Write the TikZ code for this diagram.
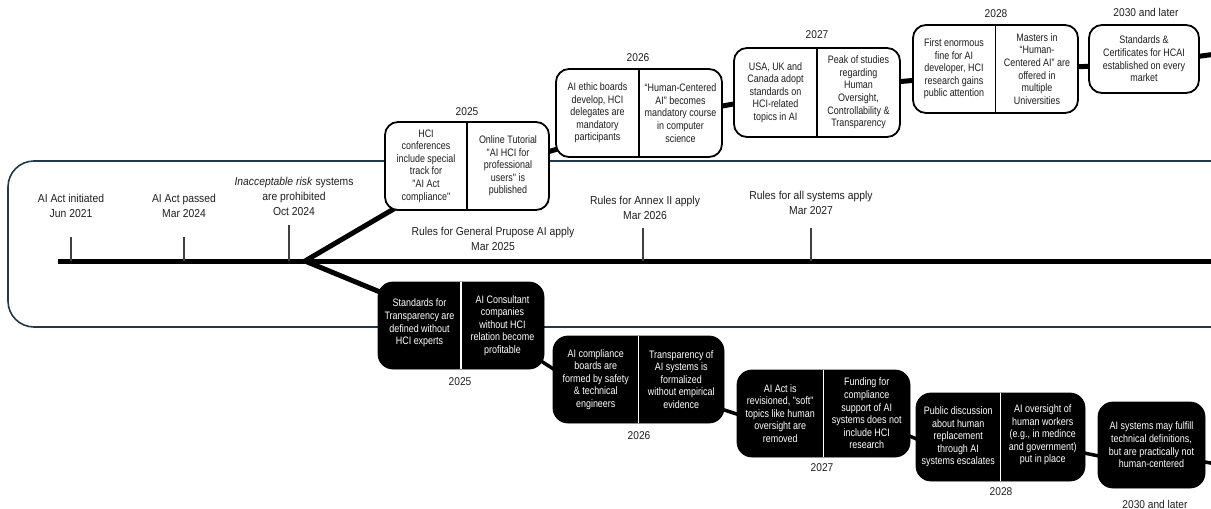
\documentclass[tikz,border=0pt]{standalone}
\usepackage{fontspec}
\setmainfont[FakeStretch=0.9]{Liberation Sans}
\newfontfamily\boxfont[FakeStretch=0.83]{Liberation Sans}
\usetikzlibrary{backgrounds,calc}
\definecolor{framecol}{HTML}{1F3A4D}
\definecolor{txt}{HTML}{1E1E1E}
\begin{document}
\begin{tikzpicture}[x=1pt,y=-1pt,
  ubox/.style={draw=black,line width=1.8pt,fill=white,rounded corners=13pt,inner sep=0pt},
  lbox/.style={draw=black,line width=0.8pt,fill=black,rounded corners=15pt,inner sep=0pt},
  btxt/.style={align=center,font=\boxfont\fontsize{10.8}{12.6}\selectfont,text=txt,inner sep=0pt},
  wtxt/.style={btxt,text=white},
  yr/.style={font=\fontsize{11.3}{13}\selectfont,text=txt,inner sep=0pt},
  lab/.style={align=center,font=\fontsize{11.5}{15}\selectfont,text=txt,inner sep=0pt},
  tickline/.style={line width=1.3pt,draw=black!75},
  udiv/.style={line width=1.3pt,draw=black},
  ldiv/.style={line width=1.6pt,draw=white},
  uchain/.style={line width=5pt,draw=black},
  lchain/.style={line width=3.5pt,draw=black},
  mainline/.style={line width=5pt,draw=black},
]
\useasboundingbox (0,0) rectangle (1211,509);

% ---------- coordinates ----------
\coordinate (tl0) at (58,261);
\coordinate (tlend) at (1220,261);
\coordinate (fork) at (305,261);
\coordinate (t1) at (71,237);
\coordinate (t2) at (184,237);
\coordinate (t3) at (289,225);
\coordinate (t4) at (643,228);
\coordinate (t5) at (811,228);
\coordinate (uend) at (1216,54);
\coordinate (lend) at (1216,464);
\coordinate (fr1) at (1240,161);
\coordinate (fr2) at (8,161);
\coordinate (fr3) at (8,327);
\coordinate (fr4) at (1240,327);

% ---------- timeline labels ----------
\node[lab] (l1) at (71,205.5) {AI Act initiated\\Jun 2021};
\node[lab] (l2) at (184,205.5) {AI Act passed\\Mar 2024};
\node[lab] (l3) at (294,196.5) {\textit{Inacceptable risk} systems\\are prohibited\\Oct 2024};
\node[lab] (l4) at (493,239) {Rules for General Prupose AI apply\\Mar 2025};
\node[lab] (l5) at (645,207.5) {Rules for Annex II apply\\Mar 2026};
\node[lab] (l6) at (811,202.5) {Rules for all systems apply\\Mar 2027};

% ---------- upper boxes ----------
\node[ubox, minimum width=164pt, minimum height=88pt] (b25u) at (467,166) {};
\node[ubox, minimum width=166pt, minimum height=88pt] (b26u) at (639,113) {};
\node[ubox, minimum width=166pt, minimum height=89pt] (b27u) at (817,92.5) {};
\node[ubox, minimum width=165pt, minimum height=88pt] (b28u) at (995.5,69) {};
\node[ubox, minimum width=110pt, minimum height=68pt] (b30u) at (1144,59) {};
\foreach \b in {b25u,b26u,b27u,b28u}{\draw[udiv] (\b.north) -- (\b.south);}

\node[btxt] (u25a) at (426,166) {HCI\\conferences\\include special\\track for\\"AI Act\\compliance"};
\node[btxt] (u25b) at (508,166) {Online Tutorial\\"AI HCI for\\professional\\users" is\\published};
\node[btxt] (u26a) at (597.5,113) {AI ethic boards\\develop, HCI\\delegates are\\mandatory\\participants};
\node[btxt] (u26b) at (680.5,113) {“Human-Centered\\AI” becomes\\mandatory course\\in computer\\science};
\node[btxt] (u27a) at (775.5,92.5) {USA, UK and\\Canada adopt\\standards on\\HCI-related\\topics in AI};
\node[btxt] (u27b) at (858.5,92.5) {Peak of studies\\regarding\\Human\\Oversight,\\Controllability \&\\Transparency};
\node[btxt] (u28a) at (954,69) {First enormous\\fine for AI\\developer, HCI\\research gains\\public attention};
\node[btxt] (u28b) at (1037,69) {Masters in\\“Human-\\Centered AI” are\\offered in\\multiple\\Universities};
\node[btxt] (u30) at (1144,59) {Standards \&\\Certificates for HCAI\\established on every\\market};

\node[yr] (y25u) at (467,112) {2025};
\node[yr] (y26u) at (638,58) {2026};
\node[yr] (y27u) at (817,35) {2027};
\node[yr] (y28u) at (996,14) {2028};
\node[yr] (y30u) at (1146,12) {2030 and later};

% ---------- lower boxes ----------
\node[lbox, minimum width=166pt, minimum height=87pt] (b25l) at (461,325.5) {};
\node[lbox, minimum width=171pt, minimum height=87pt] (b26l) at (638.5,379.5) {};
\node[lbox, minimum width=173pt, minimum height=87pt] (b27l) at (823.5,413.5) {};
\node[lbox, minimum width=169pt, minimum height=88pt] (b28l) at (1000.5,437) {};
\node[lbox, minimum width=107pt, minimum height=86pt] (b30l) at (1151.5,445) {};
\foreach \b in {b25l,b26l,b27l,b28l}{\draw[ldiv] (\b.north) -- (\b.south);}

\node[wtxt] (d25a) at (419.5,323) {Standards for\\Transparency are\\defined without\\HCI experts};
\node[wtxt] (d25b) at (502.5,325.5) {AI Consultant\\companies\\without HCI\\relation become\\profitable};
\node[wtxt] (d26a) at (595.75,379.5) {AI compliance\\boards are\\formed by safety\\\& technical\\engineers};
\node[wtxt] (d26b) at (681.25,379.5) {Transparency of\\AI systems is\\formalized\\without empirical\\evidence};
\node[wtxt] (d27a) at (780.25,413.5) {AI Act is\\revisioned, "soft"\\topics like human\\oversight are\\removed};
\node[wtxt] (d27b) at (866.75,413.5) {Funding for\\compliance\\support of AI\\systems does not\\include HCI\\research};
\node[wtxt] (d28a) at (958.25,437) {Public discussion\\about human\\replacement\\through AI\\systems escalates};
\node[wtxt] (d28b) at (1042.75,435) {AI oversight of\\human workers\\(e.g., in medince\\and government)\\put in place};
\node[wtxt] (d30) at (1151.5,445) {AI systems may fulfill\\technical definitions,\\but are practically not\\human-centered};

\node[yr] (y25l) at (460,382) {2025};
\node[yr] (y26l) at (639,436) {2026};
\node[yr] (y27l) at (822,468) {2027};
\node[yr] (y28l) at (1001,492) {2028};
\node[yr] (y30l) at (1155,504) {2030 and later};

% ---------- background: frame, timeline, connectors ----------
\begin{pgfonlayer}{background}
\draw[framecol, line width=1.6pt, rounded corners=26pt] (fr1) -- (fr2) -- (fr3) -- (fr4);
\draw[mainline] (tl0) -- (tlend);
\foreach \t in {t1,t2,t3,t4,t5}{\draw[tickline] (\t) -- (\t |- tl0);}
\draw[uchain, line join=miter] (b25u.center) -- (fork) -- (b25l.center);
\draw[uchain] ([xshift=-6pt,yshift=13pt]b25u.east) -- ([xshift=6pt,yshift=-35pt]b26u.west);
\draw[uchain] ([xshift=-6pt,yshift=6pt]b26u.east) -- ([xshift=6pt,yshift=-10.5pt]b27u.west);
\draw[uchain] ([xshift=-6pt,yshift=10.5pt]b27u.east) -- ([xshift=6pt,yshift=-11pt]b28u.west);
\draw[uchain] ([xshift=-6pt,yshift=2pt]b28u.east) -- ([xshift=6pt,yshift=-7pt]b30u.west);
\draw[uchain] ([xshift=-6pt,yshift=2pt]b30u.east) -- (uend);
\draw[lchain] ([xshift=-8pt,yshift=-32.5pt]b25l.east) -- ([xshift=7pt,yshift=6.5pt]b26l.west);
\draw[lchain] ([xshift=-6pt,yshift=-28.5pt]b26l.east) -- ([xshift=6pt,yshift=-2.5pt]b27l.west);
\draw[lchain] ([xshift=-6pt,yshift=-20.5pt]b27l.east) -- ([xshift=6pt,yshift=-4pt]b28l.west);
\draw[lchain] ([xshift=-6pt,yshift=-15pt]b28l.east) -- ([xshift=6pt,yshift=-12pt]b30l.west);
\draw[lchain] ([xshift=-6pt,yshift=-16pt]b30l.east) -- (lend);
\end{pgfonlayer}
\end{tikzpicture}
\end{document}
